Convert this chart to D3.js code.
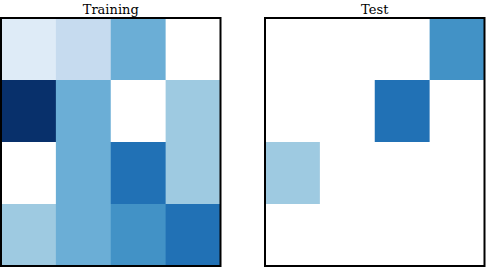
<!DOCTYPE html>
<html><head><meta charset="utf-8">
<script src="https://cdn.jsdelivr.net/npm/d3@7"></script>
<style>body{margin:0;background:#fff}svg{display:block}</style>
</head><body>
<svg id="c" width="486" height="268"></svg>
<script>
const rows = [0, 1, 2, 3];
const cols = [0, 1, 2, 3];
const panelTitles = ["Training", "Test"];
// color levels (index into Blues 9-class palette, 0 = empty/white)
const trainingValues = [
  [1, 2, 4, 0],
  [8, 4, 0, 3],
  [0, 4, 6, 3],
  [3, 4, 5, 6]
];
const testValues = [
  [0, 0, 0, 5],
  [0, 0, 6, 0],
  [3, 0, 0, 0],
  [0, 0, 0, 0]
];
const palette = ["#ffffff", ...d3.schemeBlues[9].slice(1)];
const color = d3.scaleOrdinal().domain(d3.range(9)).range(palette);

const svg = d3.select("#c");
const panels = [
  {title: panelTitles[0], values: trainingValues, x0: 1, x1: 220.5},
  {title: panelTitles[1], values: testValues, x0: 265, x1: 484.5}
];
const y = d3.scaleBand().domain(rows).range([18, 266]);
panels.forEach(p => {
  const x = d3.scaleBand().domain(cols).range([p.x0, p.x1]);
  const g = svg.append("g");
  const cells = [];
  p.values.forEach((r, i) => r.forEach((v, j) => cells.push({i, j, v})));
  g.selectAll("rect.cell").data(cells).join("rect")
    .attr("class", "cell")
    .attr("x", d => x(d.j)).attr("y", d => y(d.i))
    .attr("width", x.bandwidth() + 0.5).attr("height", y.bandwidth() + 0.5)
    .attr("fill", d => color(d.v));
  g.append("rect")
    .attr("x", p.x0).attr("y", 18)
    .attr("width", p.x1 - p.x0).attr("height", 248)
    .attr("fill", "none").attr("stroke", "#000").attr("stroke-width", 2);
  g.append("text")
    .attr("x", (p.x0 + p.x1) / 2).attr("y", 14)
    .attr("text-anchor", "middle")
    .attr("font-family", "'DejaVu Serif', serif")
    .attr("font-size", 13)
    .text(p.title);
});
</script>
</body></html>
